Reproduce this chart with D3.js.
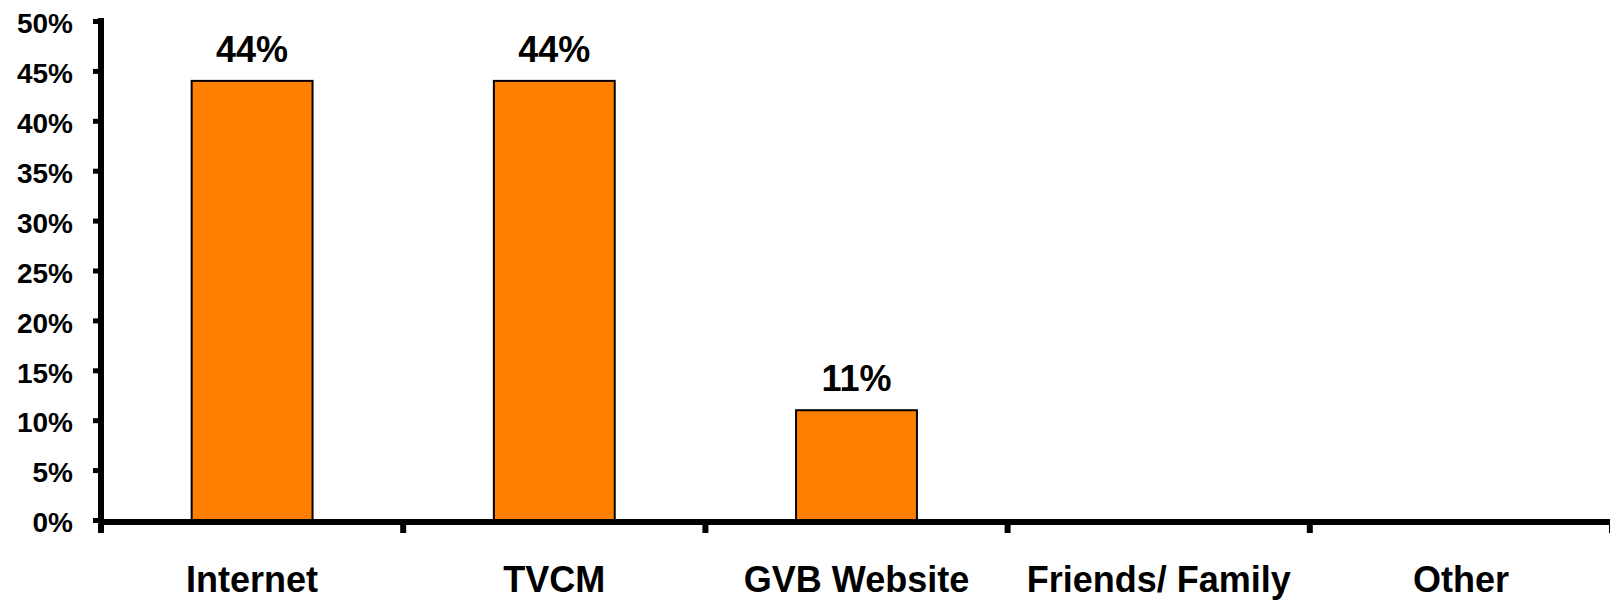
<!DOCTYPE html>
<html>
<head>
<meta charset="utf-8">
<script src="https://cdn.jsdelivr.net/npm/d3@7"></script>
<style>
  html, body { margin: 0; padding: 0; background: #fff; }
  svg { display: block; }
  text { font-family: "Liberation Sans", Arial, Helvetica, sans-serif; font-weight: bold; fill: #000; }
</style>
</head>
<body>
<svg id="chart" width="1610" height="600"></svg>
<script>
const categories = ["Internet", "TVCM", "GVB Website", "Friends/ Family", "Other"];
const values = [44, 44, 11, 0, 0];
const valueLabels = ["44%", "44%", "11%", "", ""];
const yTicks = [0, 5, 10, 15, 20, 25, 30, 35, 40, 45, 50];

const svg = d3.select("#chart");

const x = d3.scaleBand()
  .domain(categories)
  .range([101, 101 + 302.2 * 5])
  .paddingInner(0.6)
  .paddingOuter(0.3);

const y = d3.scaleLinear().domain([0, 50]).range([520, 21]);

// bars
svg.append("g").selectAll("rect")
  .data(categories.map((c, i) => ({ c, v: values[i], l: valueLabels[i] })).filter(d => d.v > 0))
  .join("rect")
  .attr("x", d => x(d.c))
  .attr("width", x.bandwidth())
  .attr("y", d => y(d.v))
  .attr("height", d => y(0) - y(d.v))
  .attr("fill", "#FF7F00")
  .attr("stroke", "#000")
  .attr("stroke-width", 2);

// value labels
svg.append("g").selectAll("text")
  .data(categories.map((c, i) => ({ c, v: values[i], l: valueLabels[i] })).filter(d => d.l))
  .join("text")
  .attr("x", d => x(d.c) + x.bandwidth() / 2)
  .attr("y", d => y(d.v) - 19)
  .attr("text-anchor", "middle")
  .attr("font-size", 36)
  .text(d => d.l);

// y axis
const yAxis = d3.axisLeft(y).tickValues(yTicks).tickSize(8).tickPadding(20).tickFormat(d => d + "%");
const gy = svg.append("g").attr("transform", "translate(101,0)").call(yAxis);
gy.select(".domain").remove();
gy.selectAll(".tick line").attr("stroke", "#000").attr("stroke-width", 5);
gy.selectAll(".tick text")
  .attr("font-size", 28)
  .attr("font-family", "Liberation Sans, Arial, sans-serif")
  .attr("font-weight", "bold")
  .attr("fill", "#000")
  .attr("dy", "0.42em");
svg.append("line")
  .attr("x1", 101).attr("x2", 101)
  .attr("y1", 18).attr("y2", 525)
  .attr("stroke", "#000").attr("stroke-width", 6);

// x axis
const xEdges = d3.range(categories.length + 1).map(i => x.range()[0] + i * x.step());
svg.append("line")
  .attr("x1", 98).attr("x2", 1610)
  .attr("y1", 522).attr("y2", 522)
  .attr("stroke", "#000").attr("stroke-width", 6);
svg.append("g").selectAll("line")
  .data(xEdges)
  .join("line")
  .attr("x1", d => d).attr("x2", d => d)
  .attr("y1", 522).attr("y2", 533)
  .attr("stroke", "#000").attr("stroke-width", 6);

const gx = svg.append("g").attr("transform", "translate(0,522)")
  .call(d3.axisBottom(x).tickSize(0).tickPadding(0));
gx.select(".domain").remove();
gx.selectAll(".tick text")
  .attr("font-size", 36)
  .attr("font-family", "Liberation Sans, Arial, sans-serif")
  .attr("font-weight", "bold")
  .attr("fill", "#000")
  .attr("dy", null)
  .attr("y", 70);
</script>
</body>
</html>
